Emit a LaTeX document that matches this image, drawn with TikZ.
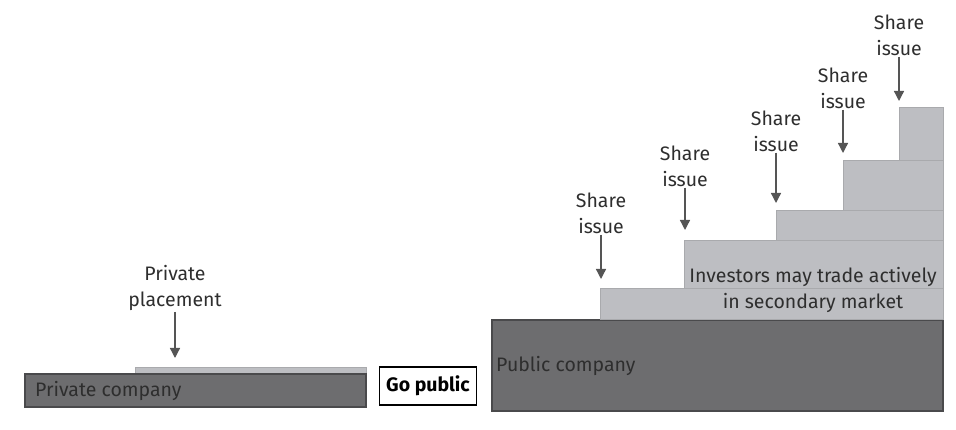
\documentclass[tikz,border=0pt]{standalone}
\usepackage{fontspec}
\setmainfont{Fira Sans}
\usetikzlibrary{arrows.meta}
\definecolor{darkbox}{HTML}{6D6D6F}
\definecolor{darkedge}{HTML}{4A4A4C}
\definecolor{lightbox}{HTML}{BDBEC2}
\definecolor{lightedge}{HTML}{A9AAAD}
\definecolor{inktext}{HTML}{2E2E2E}
\definecolor{inkarrow}{HTML}{555555}
\begin{document}
\begin{tikzpicture}[x=1pt,y=-1pt,
  font=\fontsize{19.5}{26}\selectfont,
  dark block/.style={fill=darkbox,draw=darkedge,line width=1.2pt},
  light block/.style={fill=lightbox,draw=lightedge,line width=1pt},
  caption/.style={text=inktext,align=center,inner sep=1pt},
  push/.style={draw=inkarrow,line width=1.3pt,-{Triangle[length=10pt,width=10pt]}}]
  \useasboundingbox (0,0) rectangle (956,430);
  % private side
  \draw[light block] (135,367) rectangle (366,374);
  \draw[dark block] (25,374) rectangle (366,407);
  \node[caption,anchor=west] (private) at (34,391) {Private company};
  \node[caption] (placement) at (175,288) {Private\\placement};
  \coordinate (placement tip) at (175,358);
  \draw[push] (placement) -- (placement tip);
  \node[draw=black,line width=1.2pt,minimum width=97pt,minimum height=38pt,
    inner sep=0pt,font=\fontsize{19.5}{26}\selectfont\bfseries] (gopublic) at (428,386) {Go public};
  % public side
  \draw[dark block] (492,320) rectangle (943,411);
  \node[caption,anchor=west] (public) at (495,366) {Public company};
  \foreach \left/\top/\bottom in {600/289/320, 684/241/289, 776/211/241, 843/161/211, 899/108/161} {
    \draw[light block] (\left,\top) rectangle (943,\bottom);
  }
  \node[caption] (investors) at (813,290) {Investors may trade actively\\in secondary market};
  \foreach \x/\y/\tip [count=\i] in {601/213/279, 685/166/230, 776/131/203, 843/88/153, 899/35/101} {
    \node[caption] (share\i) at (\x,\y) {Share\\issue};
    \coordinate (share tip\i) at (\x,\tip);
    \draw[push] (share\i) -- (share tip\i);
  }
\end{tikzpicture}
\end{document}
